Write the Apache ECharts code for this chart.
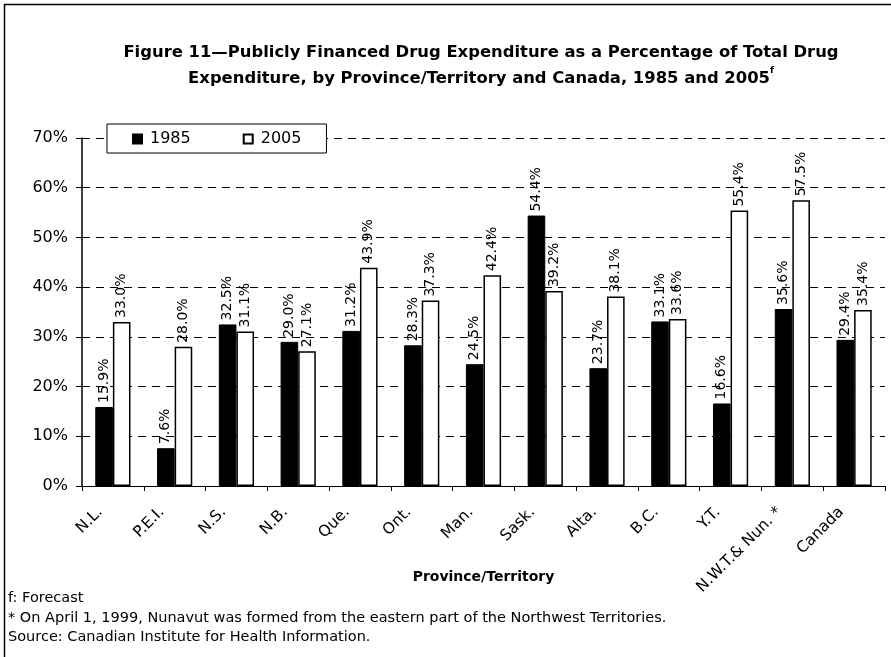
<!DOCTYPE html>
<html><head><meta charset="utf-8">
<script src="https://cdn.jsdelivr.net/npm/echarts@6/dist/echarts.min.js"></script>
<style>html,body{margin:0;padding:0;background:#fff}#c{width:891px;height:657px}</style>
</head><body><div id="c"></div>
<script>
const categories = ['N.L.','P.E.I.','N.S.','N.B.','Que.','Ont.','Man.','Sask.','Alta.','B.C.','Y.T.','N.W.T.& Nun. *','Canada'];
const values1985 = [15.9,7.6,32.5,29.0,31.2,28.3,24.5,54.4,23.7,33.1,16.6,35.6,29.4];
const values2005 = [33.0,28.0,31.1,27.1,43.9,37.3,42.4,39.2,38.1,33.6,55.4,57.5,35.4];
const yTicks = [0,10,20,30,40,50,60,70];

const FONT = 'DejaVu Sans, Verdana, sans-serif';
const chart = echarts.init(document.getElementById('c'), null, {renderer:'canvas'});
const lbl = {show:true, position:'top', rotate:90, align:'left', verticalAlign:'middle', distance:4,
  formatter: p => p.value.toFixed(1) + '%', color:'#000', fontSize:14, fontFamily:FONT};
chart.setOption({
  animation:false,
  backgroundColor:'#fff',
  textStyle:{fontFamily:FONT},
  title:{
    text:'Figure 11—Publicly Financed Drug Expenditure as a Percentage of Total Drug\nExpenditure, by Province/Territory and Canada, 1985 and 2005{s|f}',
    left:476, top:35, textAlign:'center',
    textStyle:{fontSize:16.4, fontWeight:'bold', color:'#000', fontFamily:FONT, lineHeight:26,
      rich:{s:{fontSize:9, fontWeight:'bold', verticalAlign:'top', padding:[0,0,10,0], color:'#000', fontFamily:FONT}}}
  },
  legend:{
    left:107, top:124, height:30,
    padding:[7,25,6,25], itemGap:52,
    backgroundColor:'#fff', borderColor:'#000', borderWidth:1,
    itemWidth:9, itemHeight:9,
    textStyle:{fontSize:16, color:'#000', fontFamily:FONT, padding:[0,0,0,3]},
    data:[{name:'1985', icon:'rect'},{name:'2005', icon:'rect'}]
  },
  grid:{left:82, right:6, top:138, bottom:171},
  xAxis:{
    type:'category', data:categories,
    axisLine:{lineStyle:{color:'#000', width:1}},
    axisTick:{show:true, length:5, lineStyle:{color:'#000'}},
    axisLabel:{rotate:45, fontSize:15.5, color:'#000', fontFamily:FONT, margin:11, interval:0, padding:[0,18,0,0]},
    name:'Province/Territory', nameLocation:'middle', nameGap:84, nameMoveOverlap:false,
    nameTextStyle:{fontSize:14, fontWeight:'bold', color:'#000', fontFamily:FONT}
  },
  yAxis:{
    type:'value', min:0, max:70, interval:10,
    axisLine:{show:true, lineStyle:{color:'#000', width:1.5}},
    axisTick:{show:true, length:6, lineStyle:{color:'#000'}},
    axisLabel:{formatter: v => yTicks.includes(v) ? v + '%' : '', fontSize:16, color:'#000', fontFamily:FONT, margin:14},
    splitLine:{show:true, lineStyle:{color:'#000', type:[8,6], width:1}}
  },
  series:[
    {name:'1985', type:'bar', data:values1985, barGap:'0%', barCategoryGap:'43%',
     itemStyle:{color:'#000', borderColor:'#000', borderWidth:1}, label:lbl},
    {name:'2005', type:'bar', data:values2005,
     itemStyle:{color:'#fff', borderColor:'#000', borderWidth:1.5}, label:lbl}
  ],
  graphic:[
    {type:'rect', shape:{x:4.5, y:4.5, width:900, height:700}, style:{fill:null, stroke:'#000', lineWidth:1.5}, silent:true},
    {type:'text', left:8, top:591, style:{text:'f: Forecast', fontSize:14.5, fill:'#000', fontFamily:FONT}},
    {type:'text', left:8, top:611, style:{text:'* On April 1, 1999, Nunavut was formed from the eastern part of the Northwest Territories.', fontSize:14.5, fill:'#000', fontFamily:FONT}},
    {type:'text', left:8, top:630, style:{text:'Source: Canadian Institute for Health Information.', fontSize:14.5, fill:'#000', fontFamily:FONT}}
  ]
});
</script></body></html>
